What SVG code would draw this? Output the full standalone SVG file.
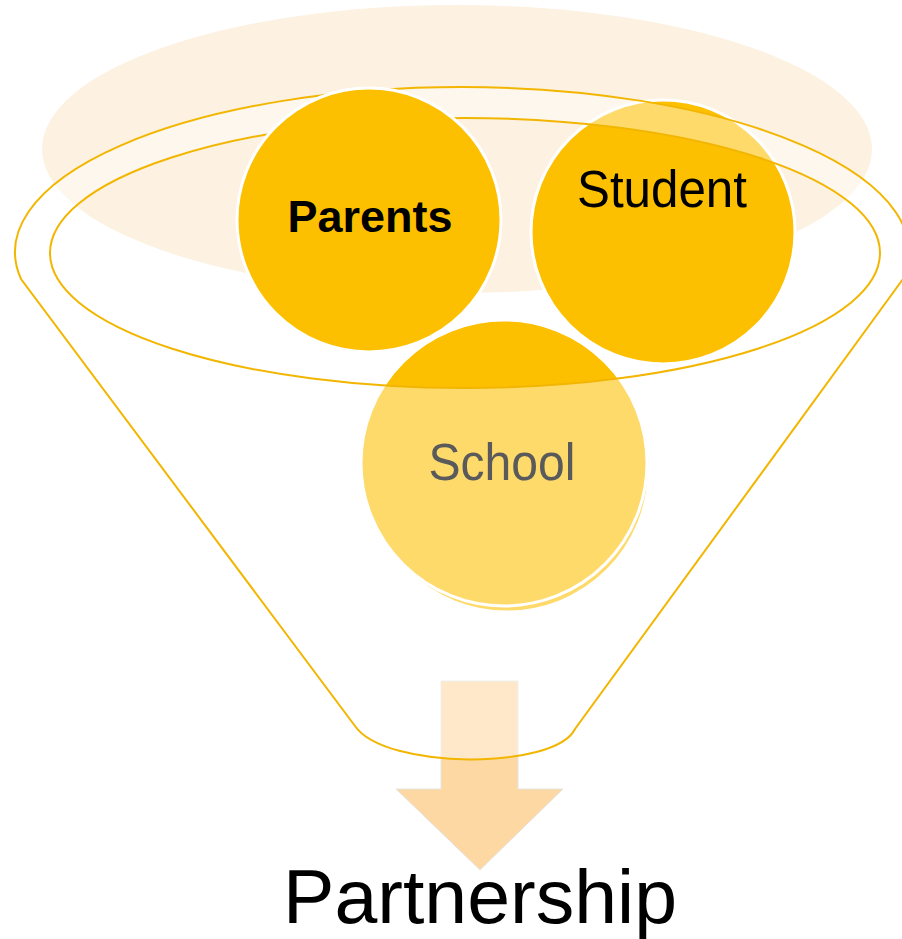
<svg xmlns="http://www.w3.org/2000/svg" width="902" height="939" viewBox="0 0 902 939">
<style>
.gold{fill:#fdc000;stroke:#ffffff;stroke-width:3}
.lbl{font-family:"Liberation Sans",Arial,sans-serif;text-anchor:middle}
.line{fill:none;stroke:#f2b600;stroke-width:2}
</style>
<rect width="902" height="939" fill="#ffffff"/>
<g id="backdrop">
<ellipse cx="457" cy="149" rx="415" ry="144" fill="#fdf1e1"/>
</g>
<g id="arrow">
<path d="M441 681 L518 681 L518 789 L563 789 L480 870 L396 789 L441 789 Z" fill="#fdd8a3" stroke="#e4e4e4" stroke-width="1"/>
</g>
<g id="student">
<circle cx="663" cy="232" r="132" class="gold"/>
</g>
<g id="school">
<circle cx="507" cy="470" r="142" fill="#fdc000" stroke="#ffffff" stroke-width="3"/>
<circle cx="504" cy="463" r="143" class="gold"/>
</g>
<g id="funnel">
<path d="M21 279 A447 165 0 1 1 903 279 L575 729 C555 770 385 770 355 726 Z M50 253 A415 135 0 1 0 880 253 A415 135 0 1 0 50 253 Z" fill="#ffffff" fill-opacity="0.42" fill-rule="evenodd"/>
<path d="M21 279 A447 165 0 1 1 903 279 L575 729 C555 770 385 770 355 726 Z" class="line"/>
<ellipse cx="465" cy="253" rx="415" ry="135" class="line"/>
</g>
<g id="parents">
<circle cx="369" cy="220" r="132" class="gold"/>
<text x="370" y="232" class="lbl" font-size="45" font-weight="bold" textLength="165" lengthAdjust="spacingAndGlyphs" fill="#000000">Parents</text>
</g>
<g id="student-label">
<text x="662" y="207" class="lbl" font-size="51" textLength="170" lengthAdjust="spacingAndGlyphs" fill="#000000">Student</text>
</g>
<g id="school-label">
<text x="502" y="480" class="lbl" font-size="52" textLength="147" lengthAdjust="spacingAndGlyphs" fill="#5a5a5a">School</text>
</g>
<g id="partnership">
<text x="480" y="923" class="lbl" font-size="76" textLength="394" lengthAdjust="spacingAndGlyphs" fill="#000000">Partnership</text>
</g>
</svg>
